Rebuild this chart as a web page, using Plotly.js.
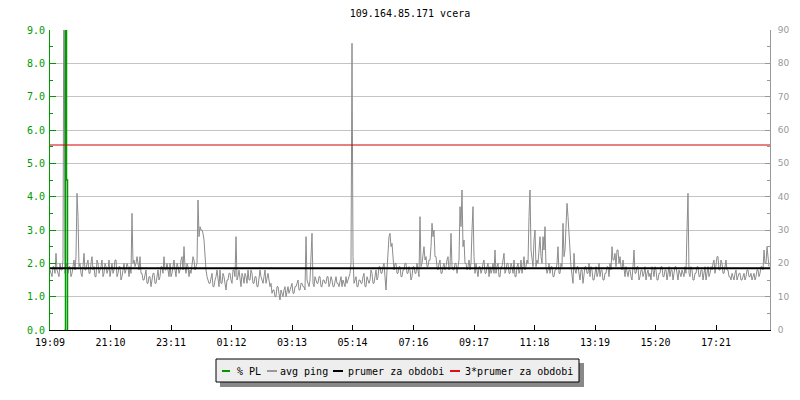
<!DOCTYPE html>
<html>
<head>
<meta charset="utf-8">
<script src="https://cdn.plot.ly/plotly-3.0.1.min.js"></script>
<style>html,body{margin:0;padding:0;background:#fff;}#chart{width:800px;height:400px;}</style>
</head>
<body>
<div id="chart"></div>
<script>
// ---- data ----
const chartTitle = '109.164.85.171 vcera';
const tickLabels = ['19:09','21:10','23:11','01:12','03:13','05:14','07:16','09:17','11:18','13:19','15:20','17:21'];
const tickMinutes = [0,121,242,363,484,605,727,848,969,1090,1211,1332];
const sampleStepMin = 2;
// avg ping in ms (right axis), one sample every 2 minutes from 19:09
const pingMs = [
  18,17,16,19,19,17,23,18,17,16,20,18,18,21,120,17,19,20,17,19,
  19,16,17,20,21,18,22,41,34,19,20,17,16,19,23,18,18,20,21,17,
  17,20,22,18,19,16,16,21,20,17,18,19,21,16,17,20,19,17,18,21,
  16,18,20,17,18,21,21,16,17,19,19,15,16,18,20,17,18,20,19,16,
  19,17,35,20,21,19,20,22,19,18,22,17,17,15,15,17,18,14,14,16,
  16,13,15,17,17,14,14,16,18,15,16,19,19,17,22,18,18,20,17,16,
  20,16,17,19,21,18,16,20,19,17,18,21,22,18,25,19,17,20,19,16,
  18,17,20,22,21,18,19,20,39,28,31,30,30,29,27,22,18,16,15,14,
  14,16,17,13,13,15,16,18,15,13,18,14,14,17,16,13,12,15,15,17,
  17,15,14,18,18,16,28,15,16,18,15,13,17,16,14,17,16,14,18,15,
  15,18,17,14,14,16,16,13,13,15,18,16,15,14,16,18,14,16,17,15,
  13,14,11,12,12,10,10,13,13,11,9,12,11,10,12,13,10,12,13,11,
  12,13,14,11,11,13,13,14,15,12,12,14,14,13,13,12,28,15,14,13,
  15,22,29,14,13,16,15,14,14,16,16,13,13,15,15,14,14,16,16,13,
  14,16,15,13,13,15,16,14,14,13,15,16,13,15,14,13,16,14,15,16,
  17,20,86,22,14,15,16,13,13,15,15,14,14,16,17,13,13,16,15,14,
  15,18,17,14,14,16,18,15,16,19,19,17,17,19,20,16,12,18,24,28,
  29,25,26,21,18,20,20,17,17,19,19,16,16,18,18,20,20,17,17,19,
  18,15,16,19,19,17,17,20,18,16,34,19,20,22,25,21,22,19,19,21,
  21,25,32,28,30,22,22,19,18,20,21,17,17,19,20,18,19,21,22,18,
  19,29,19,18,18,20,20,17,19,21,37,31,42,25,27,20,20,18,19,21,
  18,20,30,37,22,17,20,18,16,19,19,17,18,20,21,17,17,19,20,16,
  19,17,18,20,17,24,17,19,20,16,16,19,19,21,23,17,18,20,20,17,
  17,20,19,17,21,16,16,19,20,17,18,21,17,19,22,18,19,21,20,34,
  42,24,22,19,27,30,19,21,20,23,28,22,20,28,24,31,19,17,18,20,
  17,19,19,16,16,18,18,20,25,17,17,20,19,32,22,24,34,38,34,26,
  24,19,17,14,23,18,17,19,19,16,15,18,18,14,16,19,19,17,17,20,
  16,19,18,15,15,17,19,16,17,20,16,18,18,15,15,17,17,19,19,16,
  20,18,25,21,21,23,19,24,24,20,22,19,18,21,17,16,19,17,16,18,
  18,16,15,19,24,17,17,19,19,15,16,18,18,16,17,19,15,17,18,16,
  17,15,19,18,16,19,18,15,15,17,17,19,19,16,16,18,18,15,17,19,
  16,18,18,15,17,19,19,16,15,18,17,16,18,17,16,19,17,30,41,17,
  16,19,18,15,15,17,17,19,19,16,16,18,18,15,17,19,15,17,19,16,
  17,19,18,20,21,17,19,22,22,18,18,21,20,17,17,20,21,18,18,16,
  16,15,17,16,15,17,18,15,16,17,17,15,15,16,17,15,16,18,18,16,
  16,17,15,16,17,15,16,18,18,16,17,19,19,18,24,20,20,25,22,19
];
// packet loss (%), left axis
const plTimes = [29, 31, 33, 35];
const plValues = [0, 50, 4.5, 0];
const meanValue = 1.85;
const tripleMean = 5.55;
const legendNames = ['% PL', 'avg ping', 'prumer za obdobi', '3*prumer za obdobi'];
const legendColors = ['#009a00', '#999999', '#000000', '#e01010'];

const pingTimes = pingMs.map((_, i) => i * sampleStepMin);
const totalMinutes = 1440;

const mono = 'DejaVu Sans Mono, monospace';
const green = '#009a00';

const traces = [
  {x: pingTimes, y: pingMs, type: 'scatter', mode: 'lines', yaxis: 'y',
   line: {color: '#8c8c8c', width: 1, shape: 'linear'}, name: legendNames[1], hoverinfo: 'skip'},
  {x: plTimes, y: plValues, type: 'scatter', mode: 'lines', yaxis: 'y2',
   line: {color: green, width: 1.5, shape: 'hv'}, name: legendNames[0], hoverinfo: 'skip'},
  {x: [0, totalMinutes], y: [meanValue, meanValue], type: 'scatter', mode: 'lines', yaxis: 'y2',
   line: {color: '#000000', width: 2}, name: legendNames[2], hoverinfo: 'skip'},
  {x: [0, totalMinutes], y: [tripleMean, tripleMean], type: 'scatter', mode: 'lines', yaxis: 'y2',
   line: {color: '#d00000', width: 1}, name: legendNames[3], hoverinfo: 'skip'}
];

// plot-area pixel helpers for the custom legend
const L = 50, R = 30, T = 30, B = 70, W = 800, H = 400;
const pw = W - L - R, ph = H - T - B;
const px = v => (v - L) / pw;
const py = v => (H - B - v) / ph;

const shapes = [
  {type: 'rect', xref: 'paper', yref: 'paper', x0: px(220), x1: px(584), y0: py(387), y1: py(363),
   fillcolor: '#888888', line: {width: 0}, layer: 'above'},
  {type: 'rect', xref: 'paper', yref: 'paper', x0: px(216), x1: px(579), y0: py(382), y1: py(359),
   fillcolor: '#eeeeee', line: {color: '#000', width: 1}, layer: 'above'}
];
const dashX = [[222, 230], [267, 277], [333, 343], [450, 460]];
const textX = [236, 279, 347, 464];
const annotations = [];
for (let k = 0; k < 4; k++) {
  shapes.push({type: 'line', xref: 'paper', yref: 'paper', x0: px(dashX[k][0]), x1: px(dashX[k][1]),
    y0: py(371), y1: py(371), line: {color: legendColors[k], width: 2}, layer: 'above'});
  annotations.push({xref: 'paper', yref: 'paper', x: px(textX[k]), y: py(371), xanchor: 'left', yanchor: 'middle',
    text: legendNames[k], showarrow: false, font: {family: mono, size: 10, color: '#000'}, borderpad: 0});
}

const layout = {
  width: W, height: H,
  margin: {l: L, r: R, t: T, b: B, pad: 0},
  paper_bgcolor: '#ffffff', plot_bgcolor: '#ffffff',
  showlegend: false,
  title: {text: chartTitle, font: {family: mono, size: 10, color: '#000'},
          x: 0.5, xref: 'paper', xanchor: 'center', y: 1 - 13 / H, yref: 'container', yanchor: 'middle'},
  xaxis: {range: [0, totalMinutes], tickmode: 'array', tickvals: tickMinutes, ticktext: tickLabels,
          ticks: 'inside', ticklen: 5, tickcolor: '#000', showline: true, linecolor: '#000', linewidth: 1,
          showgrid: false, zeroline: false, tickfont: {family: mono, size: 10, color: '#000'},
          ticklabelstandoff: 3, fixedrange: true},
  yaxis: {range: [0, 90], side: 'right', tickmode: 'linear', tick0: 0, dtick: 10,
          showgrid: true, gridcolor: '#c4c4c4', gridwidth: 1, zeroline: false,
          showline: true, linecolor: '#999', linewidth: 1, ticks: 'inside', ticklen: 5, tickcolor: '#999',
          minor: {dtick: 5, ticks: 'inside', ticklen: 3, tickcolor: '#999', showgrid: false},
          tickfont: {family: 'DejaVu Sans, sans-serif', size: 9, color: '#999'}, ticklabelstandoff: 5, fixedrange: true},
  yaxis2: {range: [0, 9], side: 'left', overlaying: 'y', tickmode: 'linear', tick0: 0, dtick: 1, tickformat: '.1f',
           showgrid: false, zeroline: false, showline: true, linecolor: green, linewidth: 1,
           ticks: 'inside', ticklen: 6, tickcolor: green,
           minor: {dtick: 0.5, ticks: 'inside', ticklen: 3, tickcolor: green, showgrid: false},
           tickfont: {family: mono, size: 10, color: green}, ticklabelstandoff: 2, fixedrange: true},
  shapes: shapes,
  annotations: annotations
};

Plotly.newPlot('chart', traces, layout, {staticPlot: true, displayModeBar: false});
</script>
</body>
</html>
